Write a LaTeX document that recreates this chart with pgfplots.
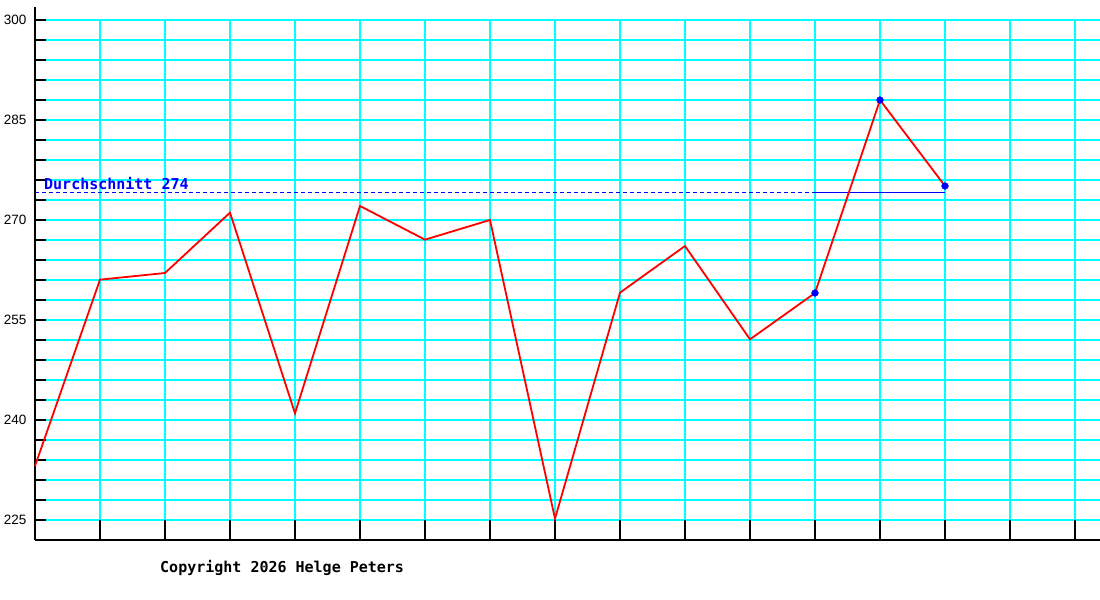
\documentclass[border=0pt]{standalone}
\usepackage{fontspec}
\setmainfont{Liberation Sans}
\newfontfamily\monofont{DejaVu Sans Mono}
\usepackage{pgfplots}
\pgfplotsset{compat=1.18}

\definecolor{gridcyan}{RGB}{0,255,255}
\definecolor{linered}{RGB}{255,0,0}
\definecolor{avgblue}{RGB}{0,0,255}

\begin{document}
\begin{tikzpicture}
	\path[use as bounding box] (0,0) rectangle (1100bp,600bp);
	\begin{axis}[
		at={(35bp,60bp)}, anchor=south west,
		scale only axis,
		width=1065bp, height=520bp,
		xmin=0, xmax=16.3846,
		ymin=222, ymax=300,
		axis lines=left,
		x axis line style={-, line width=2bp},
		y axis line style={-, line width=2bp, shorten >=-13bp},
		xtick={1,...,16},
		xticklabel=\empty,
		ytick={225,228,...,300},
		yticklabels={225,,,,,240,,,,,255,,,,,270,,,,,285,,,,,300},
		tick align=inside,
		xtick style={black, line width=1.2bp, /pgfplots/major tick length=20bp},
		ytick style={black, line width=1.2bp, /pgfplots/major tick length=11bp},
		major tick length=11bp,
		xmajorgrids, ymajorgrids,
		grid style={gridcyan, line width=1.2bp},
		major grid style={gridcyan, line width=1.2bp},
		yticklabel style={font=\fontsize{13.5bp}{16bp}\selectfont, xshift=-5bp,
			/pgf/number format/assume math mode=true},
		clip=false,
		]
		% average of the last three values
		\addplot[avgblue, line width=1.2bp, dash pattern=on 4bp off 3bp] coordinates {(0,274.15) (14,274.15)};
		\addplot[avgblue, line width=1.2bp] coordinates {(12,274.15) (14,274.15)};
		\addplot[avgblue, only marks, mark=*, mark size=3.4bp] coordinates {
			(12,259.05) (13,288) (14,275.1)
		};
		\addplot[linered, line width=1.8bp] table {
			x y
			0 233.1
			1 261.05
			2 262.05
			3 271.1
			4 241.0
			5 272.1
			6 267.05
			7 270.0
			8 225.2
			9 259.1
			10 266.1
			11 252.1
			12 259.05
			13 288.0
			14 275.1
		};
		\node[anchor=base west, inner sep=0pt, text=avgblue, font=\monofont\bfseries\fontsize{15bp}{18bp}\selectfont]
			at (axis cs:0.138,274.65) {Durchschnitt 274};
	\end{axis}
	\node[anchor=base west, inner sep=0pt, font=\monofont\bfseries\fontsize{15bp}{18bp}\selectfont] at (160bp,27.5bp) {Copyright 2026 Helge Peters};
\end{tikzpicture}
\end{document}
